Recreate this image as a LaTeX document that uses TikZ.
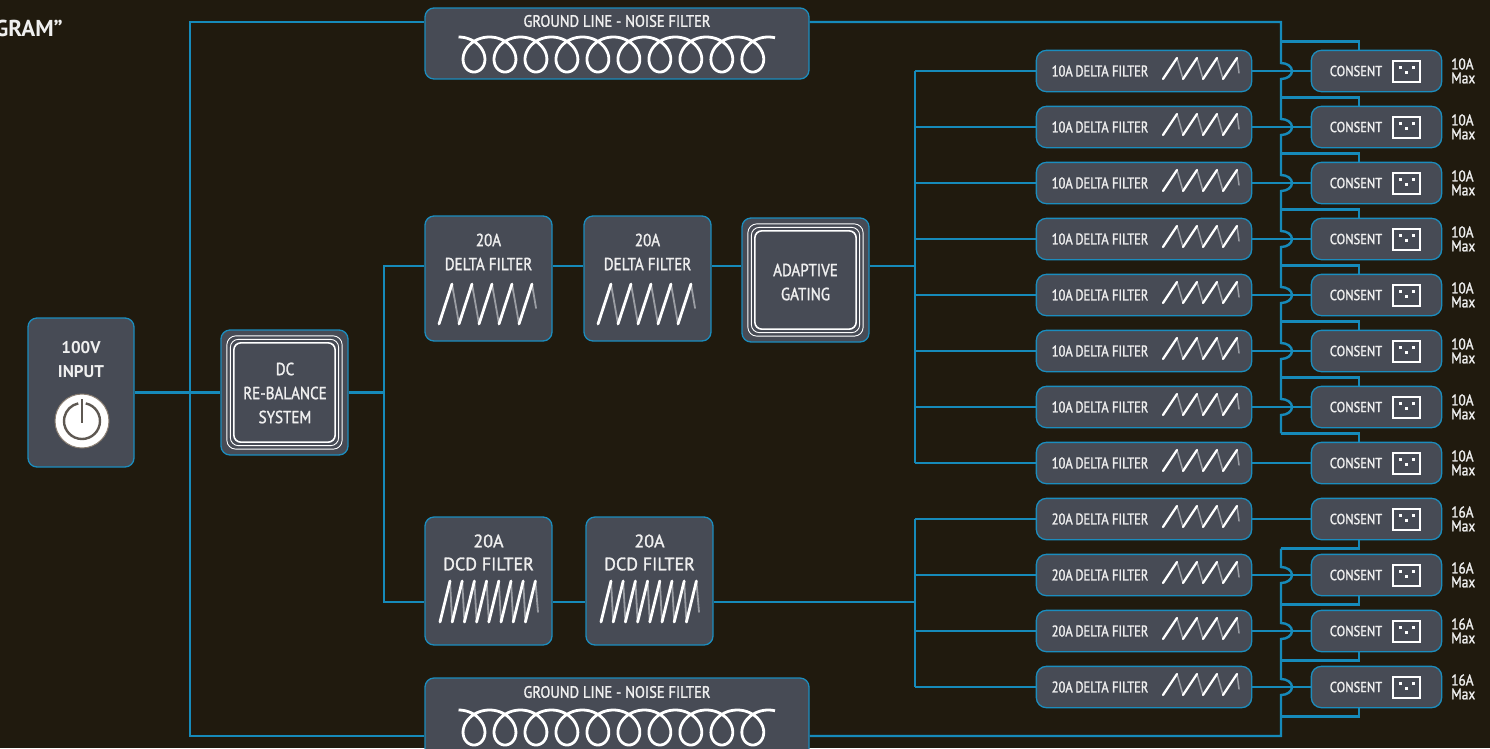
\documentclass[tikz,border=0pt]{standalone}
\usepackage{fontspec}
\setmainfont[FakeBold=1.5]{PT Sans}
\newfontfamily\boldf{PT Sans Bold}
\newfontfamily\condf[FakeStretch=0.86,FakeBold=1.5]{PT Sans}
\newfontfamily\gcondf[FakeStretch=0.88,FakeBold=1.5]{PT Sans}
\newfontfamily\narf[FakeStretch=0.81,FakeBold=1.5]{PT Sans}
\usetikzlibrary{calc}
\definecolor{bg}{HTML}{201A0E}
\definecolor{boxfill}{HTML}{474B55}
\definecolor{boxline}{HTML}{1B8DBE}
\definecolor{wirec}{HTML}{168ABA}
\definecolor{txt}{HTML}{EFEFEF}
\definecolor{wavegray}{HTML}{9A9DA3}
\definecolor{ringgray}{HTML}{5E5852}
\definecolor{rimc}{HTML}{8A7E72}
\begin{document}
\begin{tikzpicture}[x=1pt,y=-1pt,
  box/.style={draw=boxline, line width=1.3pt, fill=boxfill, rounded corners=9pt, inner sep=0pt},
  rowbox/.style={box, rounded corners=10pt, minimum height=40pt},
  wire/.style={draw=wirec, line width=2.4pt},
  t/.style={text=txt, inner sep=0pt},
  gw/.style={draw=wavegray, line width=1.8pt, line cap=round},
  ww/.style={draw=white, line width=2.8pt, line cap=round},
  gws/.style={draw=wavegray, line width=1.5pt, line cap=round},
  wws/.style={draw=white, line width=2.3pt, line cap=round},
  delta/.pic={
    \foreach \k in {0,1,2,3} \draw[gw] (-36.5+20*\k,5.5) -- (-29.5+20*\k,45.5);
    \draw[gw] (43.5,5.5) -- (47.5,29.5);
    \foreach \k in {0,1,2,3,4} \draw[ww] (-49.5+20*\k,45.5) -- (-36.5+20*\k,5.5);
  },
  dcdwave/.pic={
    \foreach \k in {0,...,6} \draw[gw] (-38.5+12.2*\k,0) -- (-36.3+12.2*\k,41);
    \draw[gw] (46.9,0) -- (49.5,31);
    \foreach \k in {0,...,7} \draw[ww] (-48.5+12.2*\k,41) -- (-38.5+12.2*\k,0);
  },
  smallsaw/.pic={
    \foreach \k in {0,1,2} \draw[gws] (33+20*\k,-13) -- (39+20*\k,8);
    \draw[gws] (93,-13) -- (95,2);
    \foreach \k in {0,1,2,3} \draw[wws] (19+20*\k,8) -- (33+20*\k,-13);
  },
  outlet/.pic={
    \draw[white, line width=2pt] (16.5,-10) rectangle (43.5,11);
    \fill[white] (22,-5.5) rectangle (25,-2.5);
    \fill[white] (35,-5.5) rectangle (38,-2.5);
    \fill[white] (28.5,-0.5) rectangle (31.5,2.5);
  },
  coil/.pic={
    \draw[white, line width=2.8pt] plot[domain=-pi:19*pi+0.3, samples=800, variable=\u]
      ({4.93*\u-18*sin(\u r)},{17.5*cos(\u r)});
  },
  triple/.style={draw=white, line width=0.9pt}
]
\fill[bg] (0,0) rectangle (1490,748);
\useasboundingbox (0,0) rectangle (1490,748);

% title fragment
\node[t, anchor=east, font=\boldf\fontsize{23}{26}\selectfont] (title) at (63,28) {GRAM”};

% helper coordinates
\coordinate (ya) at (0,266);
\coordinate (yb) at (0,602);
\coordinate (gt) at (0,22);
\coordinate (gb) at (0,736);
\coordinate (lx) at (190,0);
\coordinate (dx) at (384,0);
\coordinate (bx) at (915,0);
\coordinate (gx) at (1281,0);

% main boxes
\node[box, minimum width=106pt, minimum height=149pt] (inp) at (81,392.5) {};
\node[box, minimum width=127pt, minimum height=125pt] (dc) at (284.5,392.5) {};
\node[box, minimum width=384pt, minimum height=71pt] (gtop) at (617,43.5) {};
\node[box, minimum width=384pt, minimum height=82pt] (gbot) at (617,719) {};
\node[box, minimum width=127pt, minimum height=125pt] (d1) at (488.5,278.5) {};
\node[box, minimum width=127pt, minimum height=125pt] (d2) at (647.5,278.5) {};
\node[box, minimum width=127pt, minimum height=124pt] (gate) at (805.5,280) {};
\node[box, minimum width=127pt, minimum height=128pt] (c1) at (488.5,581) {};
\node[box, minimum width=127pt, minimum height=128pt] (c2) at (649.5,581) {};

% rows
\foreach \i/\c in {1/71,2/127,3/183,4/239,5/295,6/351,7/407,8/463,9/519,10/575,11/631,12/687}{
  \node[rowbox, minimum width=214pt] (f\i) at (1144,\c) {};
  \node[rowbox, minimum width=129pt] (s\i) at (1376.5,\c) {};
}

% ---------- wires ----------
\draw[wire] (gtop.west |- gt) -- (lx |- gt) -- (lx |- gb) -- (gbot.west |- gb);
\draw[wire] (inp.east) -- (dc.west);
\draw[wire] (dc.east) -- (dc.east -| dx);
\draw[wire] (d1.west |- ya) -- (dx |- ya) -- (dx |- yb) -- (c1.west |- yb);
\draw[wire] (d1.east |- ya) -- (d2.west |- ya);
\draw[wire] (d2.east |- ya) -- (gate.west |- ya);
\draw[wire] (gate.east |- ya) -- (bx |- ya);
\draw[wire] (c1.east |- yb) -- (c2.west |- yb);
\draw[wire] (c2.east |- yb) -- (bx |- yb);
\draw[wire] (f1.west -| bx) -- (f8.west -| bx);
\draw[wire] (f9.west -| bx) -- (f12.west -| bx);
\foreach \i in {1,...,12}{
  \draw[wire] (f\i.west -| bx) -- (f\i.west);
  \draw[wire] (f\i.east) -- (s\i.west);
}
% top ground bus with hops
\draw[wire] (gtop.east |- gt) -- (gx |- gt)
  -- ($(gx |- s1.west)+(0,-8)$) arc[start angle=-90, end angle=90, x radius=11, y radius=8]
  -- ($(gx |- s2.west)+(0,-8)$) arc[start angle=-90, end angle=90, x radius=11, y radius=8]
  -- ($(gx |- s3.west)+(0,-8)$) arc[start angle=-90, end angle=90, x radius=11, y radius=8]
  -- ($(gx |- s4.west)+(0,-8)$) arc[start angle=-90, end angle=90, x radius=11, y radius=8]
  -- ($(gx |- s5.west)+(0,-8)$) arc[start angle=-90, end angle=90, x radius=11, y radius=8]
  -- ($(gx |- s6.west)+(0,-8)$) arc[start angle=-90, end angle=90, x radius=11, y radius=8]
  -- ($(gx |- s7.west)+(0,-8)$) arc[start angle=-90, end angle=90, x radius=11, y radius=8]
  -- ($(gx |- s8.north)+(0,-9)$);
\foreach \i in {1,...,8}
  \draw[wire] ($(s\i.north)+(-17.5,0)$) |- ($(gx |- s\i.north)+(0,-9)$);
% bottom ground bus with hops
\draw[wire] (gbot.east |- gb) -- (gx |- gb)
  -- ($(gx |- s12.west)+(0,8)$) arc[start angle=90, end angle=-90, x radius=11, y radius=8]
  -- ($(gx |- s11.west)+(0,8)$) arc[start angle=90, end angle=-90, x radius=11, y radius=8]
  -- ($(gx |- s10.west)+(0,8)$) arc[start angle=90, end angle=-90, x radius=11, y radius=8]
  -- ($(gx |- s9.south)+(0,9)$);
\foreach \i in {9,...,12}
  \draw[wire] ($(s\i.south)+(-17.5,0)$) |- ($(gx |- s\i.south)+(0,9)$);

% redraw row boxes on top of wire ends
\foreach \i in {1,...,12}{
  \draw[boxline, line width=1.3pt, fill=boxfill, rounded corners=10pt] (f\i.south west) rectangle (f\i.north east);
  \draw[boxline, line width=1.3pt, fill=boxfill, rounded corners=10pt] (s\i.south west) rectangle (s\i.north east);
}

% ---------- contents ----------
% input
\node[t, font=\boldf\fontsize{17}{20}\selectfont] (inpA) at (81,348) {100V};
\node[t, font=\boldf\fontsize{17}{20}\selectfont] (inpB) at (81,372) {INPUT};
\fill[white, draw=rimc, line width=1pt] (82,421) circle[radius=27];
\draw[ringgray, line width=2.4pt] (82,421) ++(-78:18) arc[start angle=-78, end angle=258, radius=18];
\draw[ringgray, line width=2.4pt] (82,399) -- (82,423);

% DC re-balance and gating frames
\foreach \b in {dc,gate}{
  \draw[triple, rounded corners=9pt] ($(\b.south west)+(6.5,-6.5)$) rectangle ($(\b.north east)+(-6.5,6.5)$);
  \draw[triple, rounded corners=8pt] ($(\b.south west)+(10,-10)$) rectangle ($(\b.north east)+(-10,10)$);
  \draw[triple, line width=1.6pt, rounded corners=7pt] ($(\b.south west)+(13.5,-13.5)$) rectangle ($(\b.north east)+(-13.5,13.5)$);
}
\node[t, font=\condf\fontsize{17.5}{20}\selectfont] (dcA) at (285,369) {DC};
\node[t, font=\condf\fontsize{17.5}{20}\selectfont] (dcB) at (285,393) {RE-BALANCE};
\node[t, font=\condf\fontsize{17.5}{20}\selectfont] (dcC) at (285,417) {SYSTEM};

\node[t, font=\condf\fontsize{17.5}{20}\selectfont] (gA) at (805.5,270) {ADAPTIVE};
\node[t, font=\condf\fontsize{17.5}{20}\selectfont] (gB) at (805.5,294) {GATING};

% 20A delta filters
\node[t, font=\condf\fontsize{17.5}{20}\selectfont] (d1A) at (488.5,240) {20A};
\node[t, font=\condf\fontsize{17.5}{20}\selectfont] (d1B) at (488.5,264) {DELTA FILTER};
\node[t, font=\condf\fontsize{17.5}{20}\selectfont] (d2A) at (647.5,240) {20A};
\node[t, font=\condf\fontsize{17.5}{20}\selectfont] (d2B) at (647.5,264) {DELTA FILTER};
\pic at (d1.center) {delta};
\pic at (d2.center) {delta};

% DCD filters
\node[t, font=\fontsize{18}{21}\selectfont] (c1A) at (488.5,541) {20A};
\node[t, font=\fontsize{18}{21}\selectfont] (c1B) at (488.5,564) {DCD FILTER};
\node[t, font=\fontsize{18}{21}\selectfont] (c2A) at (649.5,541) {20A};
\node[t, font=\fontsize{18}{21}\selectfont] (c2B) at (649.5,564) {DCD FILTER};
\pic at (c1.center) {dcdwave};
\pic at (c2.center) {dcdwave};

% ground line filters
\node[t, font=\gcondf\fontsize{16.5}{19}\selectfont] (gtA) at (617,21) {GROUND LINE - NOISE FILTER};
\node[t, font=\gcondf\fontsize{16.5}{19}\selectfont] (gbA) at (617,692) {GROUND LINE - NOISE FILTER};
\pic at (474,54.5) {coil};
\pic at (474,727.5) {coil};

% rows content
\foreach \i/\c/\a/\m in {1/71/10A/10A,2/127/10A/10A,3/183/10A/10A,4/239/10A/10A,5/295/10A/10A,6/351/10A/10A,7/407/10A/10A,8/463/10A/10A,9/519/20A/16A,10/575/20A/16A,11/631/20A/16A,12/687/20A/16A}{
  \node[t, font=\narf\fontsize{15.5}{17}\selectfont] (ft\i) at (1100,\c) {\a\,DELTA FILTER};
  \pic at (f\i.center) {smallsaw};
  \node[t, font=\condf\fontsize{14.5}{16}\selectfont] (st\i) at (1356,\c) {CONSENT};
  \pic at (s\i.center) {outlet};
  \node[t, anchor=west, font=\condf\fontsize{15.5}{17}\selectfont] (ma\i) at (1451,\c-7) {\m};
  \node[t, anchor=west, font=\condf\fontsize{15.5}{17}\selectfont] (mb\i) at (1451,\c+7) {Max};
}
\end{tikzpicture}
\end{document}
